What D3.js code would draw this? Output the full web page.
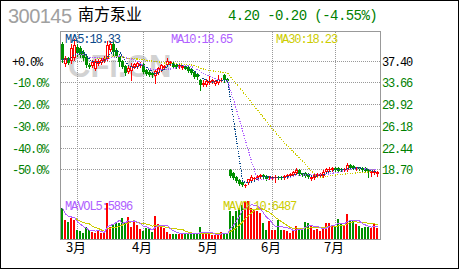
<!DOCTYPE html>
<html lang="zh">
<head>
<meta charset="UTF-8">
<title>300145 南方泵业</title>
<script src="https://cdn.jsdelivr.net/npm/d3@7"></script>
<style>
    body { margin: 0; background: #fff; }
    svg { display: block; }
    .mono { font-family: "Liberation Mono", "DejaVu Sans Mono", monospace; }
    .cjk { font-family: "Noto Sans CJK SC", sans-serif; }
</style>
</head>
<body>
<script>
// daily bars, end of Feb to late July (ex-rights gap after bar 55)
var openP = [40.28,36.83,37.87,37.35,37.87,39.76,39.59,38.90,38.04,36.66,
    36.49,35.97,36.83,37.00,37.35,37.69,39.24,40.28,39.24,38.21,
    37.35,36.49,35.45,35.62,36.40,36.31,36.49,36.83,35.80,35.45,
    35.28,34.76,35.28,35.80,36.14,36.66,36.83,37.00,36.66,36.31,
    36.14,36.40,36.31,35.97,35.45,35.11,34.07,33.21,33.21,33.56,
    33.73,33.38,33.56,34.05,34.93,34.25,
    18.56,18.04,17.35,16.83,16.49,15.80,16.30,16.66,17.00,17.18,
    17.35,17.69,17.52,17.18,17.20,17.18,17.35,17.38,17.18,17.35,
    17.52,17.69,18.04,18.56,18.00,18.04,17.87,17.00,17.18,17.52,
    17.69,17.52,18.21,18.56,18.56,18.90,18.90,18.81,18.50,18.56,
    19.42,19.24,18.73,18.99,18.90,18.90,18.64,18.04,18.04,17.87];
var closeP = [37.52,37.87,37.00,39.59,40.11,38.73,38.38,37.87,36.66,36.40,
    37.18,37.35,37.35,37.52,37.87,40.11,40.28,38.90,38.21,37.18,
    36.31,35.28,36.14,36.49,36.75,37.00,36.83,35.45,35.11,34.93,
    34.93,35.62,36.14,36.66,36.49,37.35,37.18,36.31,36.31,36.66,
    36.49,36.05,35.62,35.28,34.59,34.59,33.21,33.56,33.90,33.90,
    34.07,33.90,34.25,34.10,34.07,33.90,
    17.52,17.18,16.66,16.14,15.97,16.05,16.95,17.35,17.18,17.52,
    17.69,17.35,17.00,17.35,17.33,17.35,17.18,17.20,17.52,17.69,
    17.87,18.21,18.56,17.87,17.70,17.52,17.35,17.35,17.69,17.87,
    17.87,18.21,18.73,18.81,18.90,18.56,18.47,18.56,18.70,19.50,
    18.90,18.81,18.90,18.81,18.56,18.38,18.20,18.30,18.38,18.30];
var highP = [40.62,38.21,38.04,40.28,41.14,40.28,39.93,39.24,38.38,36.95,
    37.52,37.69,37.69,37.87,38.21,40.80,40.80,40.62,39.59,38.55,
    37.52,36.66,36.49,37.00,36.95,37.18,37.18,37.00,35.97,35.80,
    35.45,35.97,36.31,36.83,36.66,37.87,37.35,37.18,36.83,36.83,
    36.66,36.55,36.49,36.14,35.62,35.28,34.25,34.07,34.25,34.76,
    34.25,34.07,34.93,34.40,35.11,34.42,
    18.73,18.21,17.52,17.00,16.66,16.20,17.10,17.69,17.35,17.69,
    17.87,17.87,17.69,17.52,17.52,17.69,17.52,17.55,17.69,17.87,
    18.04,18.38,18.90,18.73,18.10,18.21,18.04,17.52,17.87,18.04,
    18.04,18.56,18.90,19.07,19.07,19.07,19.07,18.99,18.85,19.76,
    19.59,19.42,19.07,19.07,19.07,19.07,18.73,18.47,18.73,18.38];
var lowP = [37.18,36.49,36.83,37.00,37.52,38.21,38.04,37.52,36.31,36.20,
    36.31,35.80,36.66,36.83,37.18,37.52,39.07,38.38,38.04,36.49,
    36.14,34.93,35.28,34.07,36.20,36.14,36.31,35.28,34.93,34.76,
    34.59,33.56,35.11,35.62,35.97,36.49,36.66,36.14,36.14,36.14,
    35.97,35.90,35.45,35.11,34.42,34.25,32.35,33.04,33.04,33.38,
    33.56,33.21,33.38,33.85,33.73,33.73,
    17.35,17.00,16.49,15.97,15.80,15.62,16.20,16.49,16.83,17.00,
    17.18,17.18,16.83,17.00,17.00,16.49,17.00,17.05,17.00,17.18,
    17.35,17.52,17.87,17.69,17.55,17.35,17.18,16.83,17.00,17.35,
    17.52,17.35,18.04,18.38,18.38,18.38,18.30,18.38,18.40,18.38,
    18.73,18.73,18.56,18.64,18.38,18.21,17.43,17.52,17.87,17.52];
var volume = [14300,8800,8000,9500,8800,4100,3600,2600,5700,4100,
    3400,2600,4000,2600,2600,16500,5700,6500,7200,7500,
    9500,7200,10300,5700,8800,6500,4500,3800,4900,4400,
    3400,10600,6800,5700,4900,3400,2500,2500,2500,2500,
    2700,2500,2500,2200,2200,2200,5700,2200,2500,2200,
    1800,2000,2200,3400,2500,2500,
    13100,10500,12800,14300,15500,17400,17400,14300,13500,12800,
    12000,7400,4300,8200,4300,4300,8900,4300,4300,3600,
    2800,4300,5900,5100,4300,7800,7400,5900,4100,4500,
    3800,5400,7500,7500,6500,6000,9100,7200,6500,11500,
    8500,9000,7000,5800,4900,5700,5700,5300,7500,5200];

var priceTicks = [37.40, 33.66, 29.92, 26.18, 22.44, 18.70];
var pctLabels = ["+0.0%", "-10.0%", "-20.0%", "-30.0%", "-40.0%", "-50.0%"];
var monthLabels = ["3月", "4月", "5月", "6月", "7月"];
var monthStart = [5, 27, 49, 70, 91];

var upColor = "#ff0000", downColor = "#009000";
var ma5Color = "#0a4a8a", ma10Color = "#b060ff", ma30Color = "#cccc00";

var n = closeP.length;
var svg = d3.select("body").append("svg").attr("width", 460).attr("height", 270);

svg.append("rect").attr("x", 0.5).attr("y", 0.5).attr("width", 458).attr("height", 268)
    .attr("fill", "#fff").attr("stroke", "#000");

var x = d3.scaleBand().domain(d3.range(n)).range([61, 379]);
var y = d3.scaleLinear().domain([18.70, 37.40]).range([169.3, 60.7]);
var yv = d3.scaleLinear().domain([0, 18000]).range([239, 200]);
function cx(i) { return x(i) + x.bandwidth() / 2; }
function isUp(i) { return closeP[i] >= openP[i]; }

function movingAvg(arr, k) {
    return arr.map(function(d, i) {
        return d3.mean(arr.slice(Math.max(0, i - k + 1), i + 1));
    });
}

// watermark
svg.append("text").attr("x", 68).attr("y", 77)
    .style("font-family", "Liberation Sans, Arial, sans-serif").style("font-weight", "bold")
    .style("font-size", "31px").attr("fill", "#d2d2d2").text("CFi.CN");

// grid
var grid = svg.append("g").attr("stroke", "#999").attr("stroke-dasharray", "1,1");
grid.selectAll(".hg").data(priceTicks).join("line")
    .attr("x1", 61).attr("x2", 380)
    .attr("y1", function(d) { return Math.round(y(d)) + 0.5; })
    .attr("y2", function(d) { return Math.round(y(d)) + 0.5; });
grid.selectAll(".vg").data(monthStart).join("line")
    .attr("x1", function(d) { return cx(d); }).attr("x2", function(d) { return cx(d); })
    .attr("y1", 32).attr("y2", 239);

// volume bars
svg.append("g").selectAll("rect").data(d3.range(n)).join("rect")
    .attr("x", function(i) { return x(i); })
    .attr("width", 2)
    .attr("y", function(i) { return Math.round(yv(volume[i])); })
    .attr("height", function(i) { return 239 - Math.round(yv(volume[i])); })
    .attr("fill", function(i) { return isUp(i) ? upColor : downColor; });

var volLine = d3.line().x(function(d, i) { return cx(i); }).y(function(d) { return yv(d); });
svg.append("path").datum(movingAvg(volume, 10)).attr("d", volLine)
    .attr("fill", "none").attr("stroke", ma30Color).attr("shape-rendering", "crispEdges");
svg.append("path").datum(movingAvg(volume, 5)).attr("d", volLine)
    .attr("fill", "none").attr("stroke", ma10Color).attr("shape-rendering", "crispEdges");

// candles
var candle = svg.append("g").selectAll("g").data(d3.range(n)).join("g");
candle.append("line")
    .attr("x1", cx).attr("x2", cx)
    .attr("y1", function(i) { return Math.round(y(highP[i])); })
    .attr("y2", function(i) { return Math.round(y(lowP[i])) + 1; })
    .attr("stroke", function(i) { return isUp(i) ? upColor : downColor; });
candle.append("rect")
    .each(function(i) {
        var top = Math.round(y(Math.max(openP[i], closeP[i])));
        var bot = Math.round(y(Math.min(openP[i], closeP[i])));
        var h = Math.max(bot - top, 1);
        var r = d3.select(this);
        if (isUp(i) && h >= 3) {
            r.attr("x", x(i) + 0.5).attr("y", top + 0.5).attr("width", 2).attr("height", h - 1)
                .attr("fill", "#fff").attr("stroke", upColor);
        } else {
            r.attr("x", x(i)).attr("y", top).attr("width", 3).attr("height", h)
                .attr("fill", isUp(i) ? upColor : downColor);
        }
    });

// price moving averages
var priceLine = d3.line().x(function(d, i) { return cx(i); }).y(function(d) { return y(d); });
[[30, ma30Color], [10, ma10Color], [5, ma5Color]].forEach(function(m) {
    svg.append("path").datum(movingAvg(closeP, m[0])).attr("d", priceLine)
        .attr("fill", "none").attr("stroke", m[1]).attr("stroke-width", 1.2)
        .attr("stroke-dasharray", "1.2,1.3").attr("shape-rendering", "crispEdges");
});

// frame
svg.append("rect").attr("x", 60.5).attr("y", 31.5).attr("width", 320).attr("height", 208)
    .attr("fill", "none").attr("stroke", "#999");

// axis labels
svg.selectAll(".pct").data(pctLabels).join("text").attr("class", "mono")
    .attr("x", 12).attr("y", function(d, i) { return Math.round(y(priceTicks[i])) + 5; })
    .style("font-size", "12px").style("letter-spacing", "-1.2px")
    .attr("fill", function(d, i) { return i === 0 ? "#000" : "#008000"; })
    .text(function(d) { return d; });
svg.selectAll(".prc").data(priceTicks).join("text").attr("class", "mono")
    .attr("x", 382).attr("y", function(d) { return Math.round(y(d)) + 5; })
    .style("font-size", "12px").style("letter-spacing", "-1.2px")
    .attr("fill", function(d, i) { return i === 0 ? "#000" : "#008000"; })
    .text(function(d) { return d.toFixed(2); });
svg.selectAll(".mon").data(monthLabels).join("text").attr("class", "cjk")
    .attr("x", function(d, i) { return cx(monthStart[i]) - 1.5; }).attr("y", 252)
    .attr("text-anchor", "middle").style("font-size", "13px").attr("fill", "#000")
    .text(function(d) { return d; });

// legends
function legend(tx, ty, col, str) {
    svg.append("text").attr("class", "mono").attr("x", tx).attr("y", ty)
        .style("font-size", "12px").style("letter-spacing", "-1.1px")
        .attr("fill", col).text(str);
}
legend(65, 43, ma5Color, "MA5:18.33");
legend(171, 43, ma10Color, "MA10:18.65");
legend(276, 43, ma30Color, "MA30:18.23");
legend(65, 209.5, ma10Color, "MAVOL5:5896");
legend(223, 209.5, ma30Color, "MAVOL10:6487");

// header
svg.append("text").attr("x", 8).attr("y", 23)
    .style("font-family", "Liberation Sans, Arial, sans-serif").style("font-size", "20px")
    .attr("textLength", 64).attr("fill", "#a0a0a0").text("300145");
svg.append("text").attr("class", "cjk").attr("x", 78).attr("y", 20)
    .style("font-size", "16px").attr("fill", "#000").text("南方泵业");
svg.append("text").attr("class", "mono").attr("x", 228).attr("y", 20)
    .style("font-size", "14px").style("letter-spacing", "-0.55px")
    .attr("fill", "#008000").text("4.20 -0.20 (-4.55%)");
</script>
</body>
</html>
